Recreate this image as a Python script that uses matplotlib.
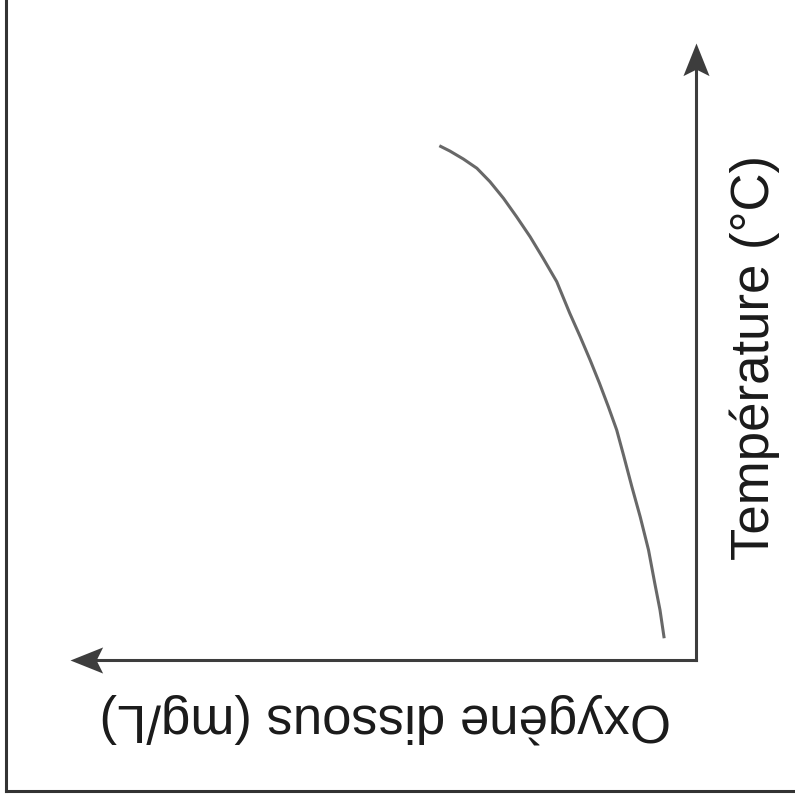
import matplotlib
matplotlib.use("Agg")
import matplotlib.pyplot as plt
from matplotlib.lines import Line2D
from matplotlib.path import Path

plt.rcParams['font.family'] = ['Liberation Sans', 'DejaVu Sans']

# curve (oxygen grows to the left, temperature upward)
oxygene = [4.92, 4.72, 4.46, 4.20, 3.95, 3.69, 3.44, 3.18, 2.93, 2.67, 2.42, 2.22,
           2.03, 1.85, 1.68, 1.52, 1.39, 1.23, 1.07, 0.91, 0.79, 0.69, 0.61]
temperature = [33.34, 33.00, 32.48, 31.88, 31.01, 29.93, 28.74, 27.44, 26.04, 24.53,
               22.48, 20.96, 19.45, 17.94, 16.42, 14.91, 13.29, 11.24, 9.29, 7.13,
               4.97, 3.24, 1.41]

x_label = "Oxygène dissous (mg/L)"
y_label = "Température (°C)"

axis_color = "#3d3d3d"
curve_color = "#686868"
text_color = "#1a1a1a"

fig = plt.figure(figsize=(7.95, 7.98), dpi=100)
ax = fig.add_axes([70 / 795, 1 - 660 / 798, 626 / 795, 617 / 798])
ax.set_xlim(12, 0)
ax.set_ylim(0, 40)
ax.axis("off")

ax.plot(oxygene, temperature, color=curve_color, lw=2.2,
        solid_capstyle="butt", solid_joinstyle="round")

# axis lines with stealth-style heads
ax.plot([1, 1], [0, 1 - 22 / 617], color=axis_color, lw=2.2,
        transform=ax.transAxes, clip_on=False, solid_capstyle="projecting")
ax.plot([1, 22 / 626], [0, 0], color=axis_color, lw=2.2,
        transform=ax.transAxes, clip_on=False, solid_capstyle="projecting")

up = Path([(0, 0), (-0.4, -1), (0, -0.8), (0.4, -1), (0, 0)],
          [Path.MOVETO, Path.LINETO, Path.LINETO, Path.LINETO, Path.CLOSEPOLY])
left = Path([(0, 0), (1, 0.4), (0.8, 0), (1, -0.4), (0, 0)],
            [Path.MOVETO, Path.LINETO, Path.LINETO, Path.LINETO, Path.CLOSEPOLY])
ax.plot([1], [1], marker=up, markersize=47, color=axis_color, mew=0,
        transform=ax.transAxes, clip_on=False)
ax.plot([0], [0], marker=left, markersize=47, color=axis_color, mew=0,
        transform=ax.transAxes, clip_on=False)

fig.text(755 / 795, 1 - 358 / 798, y_label, rotation=90, ha="center", va="center",
         fontsize=38, color=text_color)
fig.text(385 / 795, 1 - 718 / 798, x_label, rotation=180, ha="center", va="center",
         fontsize=38, color=text_color)

# outer frame (left and bottom only visible)
fig.add_artist(Line2D([6 / 795, 6 / 795], [1 - 791 / 798, 1], color="#333333", lw=2.2,
                      transform=fig.transFigure))
fig.add_artist(Line2D([6 / 795, 1], [1 - 791 / 798, 1 - 791 / 798], color="#333333", lw=2.2,
                      transform=fig.transFigure))

fig.savefig("out.png", dpi=100)
